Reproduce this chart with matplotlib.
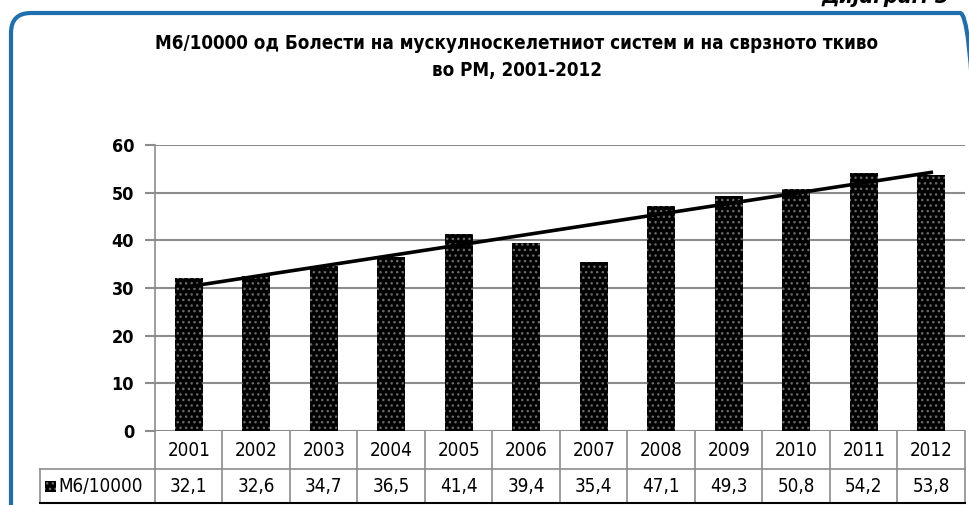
import numpy as np
import matplotlib
matplotlib.use("Agg")
import matplotlib.pyplot as plt
from matplotlib.patches import FancyBboxPatch, Rectangle
import matplotlib.transforms as mtransforms

years = ["2001", "2002", "2003", "2004", "2005", "2006", "2007", "2008", "2009", "2010", "2011", "2012"]
values = [32.1, 32.6, 34.7, 36.5, 41.4, 39.4, 35.4, 47.1, 49.3, 50.8, 54.2, 53.8]
value_labels = ["32,1", "32,6", "34,7", "36,5", "41,4", "39,4", "35,4", "47,1", "49,3", "50,8", "54,2", "53,8"]
series_name = "М6/10000"
title = "М6/10000 од Болести на мускулноскелетниот систем и на сврзното ткиво\nво РМ, 2001-2012"
yticks = [0, 10, 20, 30, 40, 50, 60]

plt.rcParams['font.family'] = ['DejaVu Sans']
plt.rcParams['font.stretch'] = 'condensed'

W, H = 970, 505
fig = plt.figure(figsize=(W / 100, H / 100), dpi=100)

def fx(px):
    return px / W

def fy(py):
    return 1 - py / H

left, right, top, bottom = 155, 965, 145, 431
ax = fig.add_axes([fx(left), fy(bottom), fx(right) - fx(left), fy(top) - fy(bottom)])

x = np.arange(len(years))
ax.bar(x, values, width=0.42, color='black', edgecolor='#6a6a6a', hatch='...', linewidth=0, zorder=2)
coef = np.polyfit(x, values, 1)
ax.plot(x, np.polyval(coef, x), color='black', lw=2.6, zorder=3)

ax.set_xlim(-0.5, len(years) - 0.5)
ax.set_ylim(0, 60)
ax.set_yticks(yticks)
ax.set_yticklabels([str(t) for t in yticks], fontsize=13, fontweight='bold')
ax.set_xticks([])
ax.grid(axis='y', color='#8c8c8c', lw=1.5, zorder=0)
for s in ['top', 'right', 'bottom']:
    ax.spines[s].set_visible(False)
ax.spines['left'].set_color('#8c8c8c')
ax.spines['left'].set_linewidth(1.2)
ax.tick_params(axis='y', length=7, color='#8c8c8c', width=1.5, pad=8)

# data table
trans = mtransforms.blended_transform_factory(ax.transData, fig.transFigure)
row1_top, row1_bot, row2_bot = 431, 469, 503
gray = '#8c8c8c'
for i in range(len(years) + 1):
    xb = i - 0.5
    ax.plot([xb, xb], [fy(row1_top), fy(row2_bot)], transform=trans, color=gray, lw=1.2, clip_on=False)
ax.plot([-0.5, len(years) - 0.5], [fy(row1_bot), fy(row1_bot)], transform=trans, color=gray, lw=1.2, clip_on=False)
for i, (yl, vl) in enumerate(zip(years, value_labels)):
    ax.text(i, fy((row1_top + row1_bot) / 2), yl, transform=trans, ha='center', va='center', fontsize=13.5)
    ax.text(i, fy((row1_bot + row2_bot) / 2), vl, transform=trans, ha='center', va='center', fontsize=13.5)

# label cell
fig.lines.append(plt.Line2D([fx(40), fx(left)], [fy(row1_bot), fy(row1_bot)], transform=fig.transFigure, color=gray, lw=1.2))
fig.lines.append(plt.Line2D([fx(40), fx(40)], [fy(row1_bot), fy(row2_bot)], transform=fig.transFigure, color=gray, lw=1.2))
fig.lines.append(plt.Line2D([fx(40), fx(right)], [fy(row2_bot), fy(row2_bot)], transform=fig.transFigure, color='black', lw=1.5))
fig.patches.append(Rectangle((fx(45), fy(492)), fx(11), fy(481) - fy(492), transform=fig.transFigure,
                             facecolor='black', edgecolor='#6a6a6a', hatch='...', lw=0))
fig.text(fx(58), fy((row1_bot + row2_bot) / 2), series_name, ha='left', va='center', fontsize=13.5)

# title
fig.text(fx(517), fy(57), title, ha='center', va='center', fontsize=13.5, fontweight='bold', linespacing=1.5)

# frame (pixel coordinates)
frame = FancyBboxPatch((11, -40), 980 - 11, (H - 13) + 40,
                       boxstyle="round,pad=0,rounding_size=20", transform=mtransforms.IdentityTransform(),
                       facecolor='none', edgecolor='#1f6fb0', lw=3, clip_on=False)
fig.patches.append(frame)

fig.text(fx(822), fy(3), "Дијаграм 3", ha='left', va='baseline', fontsize=16, fontweight='bold',
         style='italic')

fig.savefig("out.png", dpi=100)
